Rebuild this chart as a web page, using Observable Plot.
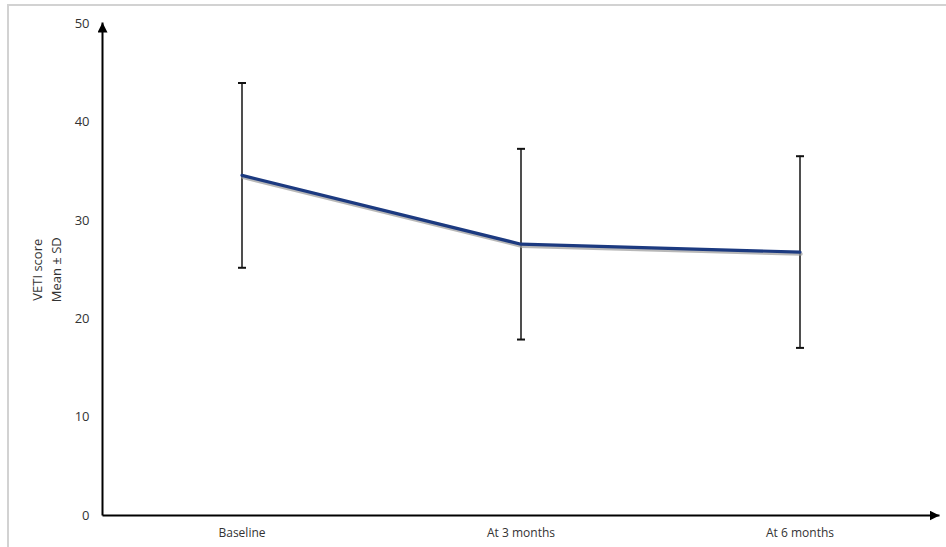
<!DOCTYPE html>
<html>
<head>
<meta charset="utf-8">
<script src="https://cdn.jsdelivr.net/npm/d3@7"></script>
<script src="https://cdn.jsdelivr.net/npm/@observablehq/plot@0.6"></script>
<style>
  html, body { margin: 0; padding: 0; background: #fff; }
  #wrap { position: relative; width: 946px; height: 547px; overflow: hidden; }
  #border { position: absolute; left: 7px; top: 4px; width: 1000px; height: 1000px;
            border-top: 2px solid #d2d2d2; border-left: 2px solid #d2d2d2; pointer-events: none; }
  #chart { position: absolute; left: 0; top: 0; }
</style>
</head>
<body>
<div id="wrap"><div id="chart"></div><div id="border"></div></div>
<script>
const categories = ["Baseline", "At 3 months", "At 6 months"];
const means = [34.6, 27.6, 26.8];
const sds = [9.4, 9.7, 9.75];
const yTicks = [0, 10, 20, 30, 40, 50];
const yLabelLines = ["VETI score", "Mean ± SD"];

const data = categories.map((c, i) => ({i, c, mean: means[i], lo: means[i] - sds[i], hi: means[i] + sds[i]}));

const arrowMarker = (color) => {
  const m = d3.create("svg:marker")
    .attr("viewBox", "-10 -5 10 10")
    .attr("markerWidth", 10)
    .attr("markerHeight", 10)
    .attr("markerUnits", "userSpaceOnUse")
    .attr("orient", "auto");
  m.append("path").attr("d", "M-10,-5L0,0L-10,5Z").attr("fill", color).attr("stroke", "none");
  return m.node();
};

const capSymbol = {
  draw(context, size) {
    const r = 4;
    context.moveTo(-r, 0);
    context.lineTo(r, 0);
  }
};

const xMin = -0.5, xMax = categories.length - 0.5;

const chart = Plot.plot({
  width: 946,
  height: 547,
  marginLeft: 102,
  marginRight: 7,
  marginTop: 23.5,
  marginBottom: 32,
  style: {fontFamily: "'Open Sans', sans-serif", background: "transparent"},
  x: {domain: [xMin, xMax], axis: null},
  y: {domain: [0, 50], axis: null},
  marks: [
    Plot.axisY({ticks: yTicks, tickSize: 0, tickPadding: 13, fontSize: 13, color: "#333", label: null}),
    Plot.axisX({ticks: categories.map((c, i) => i), tickFormat: i => categories[i], tickSize: 0, tickPadding: 13, fontSize: 12, color: "#333", label: null}),
    Plot.text([yLabelLines[0]], {frameAnchor: "left", textAnchor: "middle", rotate: -90, dx: -65, fontSize: 13, fill: "#333"}),
    Plot.text([yLabelLines[1]], {frameAnchor: "left", textAnchor: "middle", rotate: -90, dx: -46, fontSize: 13, fill: "#333"}),
    // error bars
    Plot.ruleX(data, {x: "i", y1: "lo", y2: "hi", stroke: "#222", strokeWidth: 1.6}),
    Plot.dot(data, {x: "i", y: "hi", symbol: capSymbol, stroke: "#111", strokeWidth: 2, fill: "none", r: 4}),
    Plot.dot(data, {x: "i", y: "lo", symbol: capSymbol, stroke: "#111", strokeWidth: 2, fill: "none", r: 4}),
    // line shadow + line
    Plot.line(data, {x: "i", y: "mean", stroke: "#9a9a9a", strokeWidth: 3.5, strokeOpacity: 0.7, dy: 2, dx: 1}),
    Plot.line(data, {x: "i", y: "mean", stroke: "#1c3a80", strokeWidth: 3.2}),
    // axes with arrows
    Plot.link([0], {x1: xMin, x2: xMin, y1: 0, y2: 50.15, stroke: "#000", strokeWidth: 2, markerEnd: arrowMarker}),
    Plot.link([0], {x1: xMin, x2: xMax, y1: 0, y2: 0, stroke: "#000", strokeWidth: 2, markerEnd: arrowMarker})
  ]
});
document.getElementById("chart").appendChild(chart);
</script>
</body>
</html>
